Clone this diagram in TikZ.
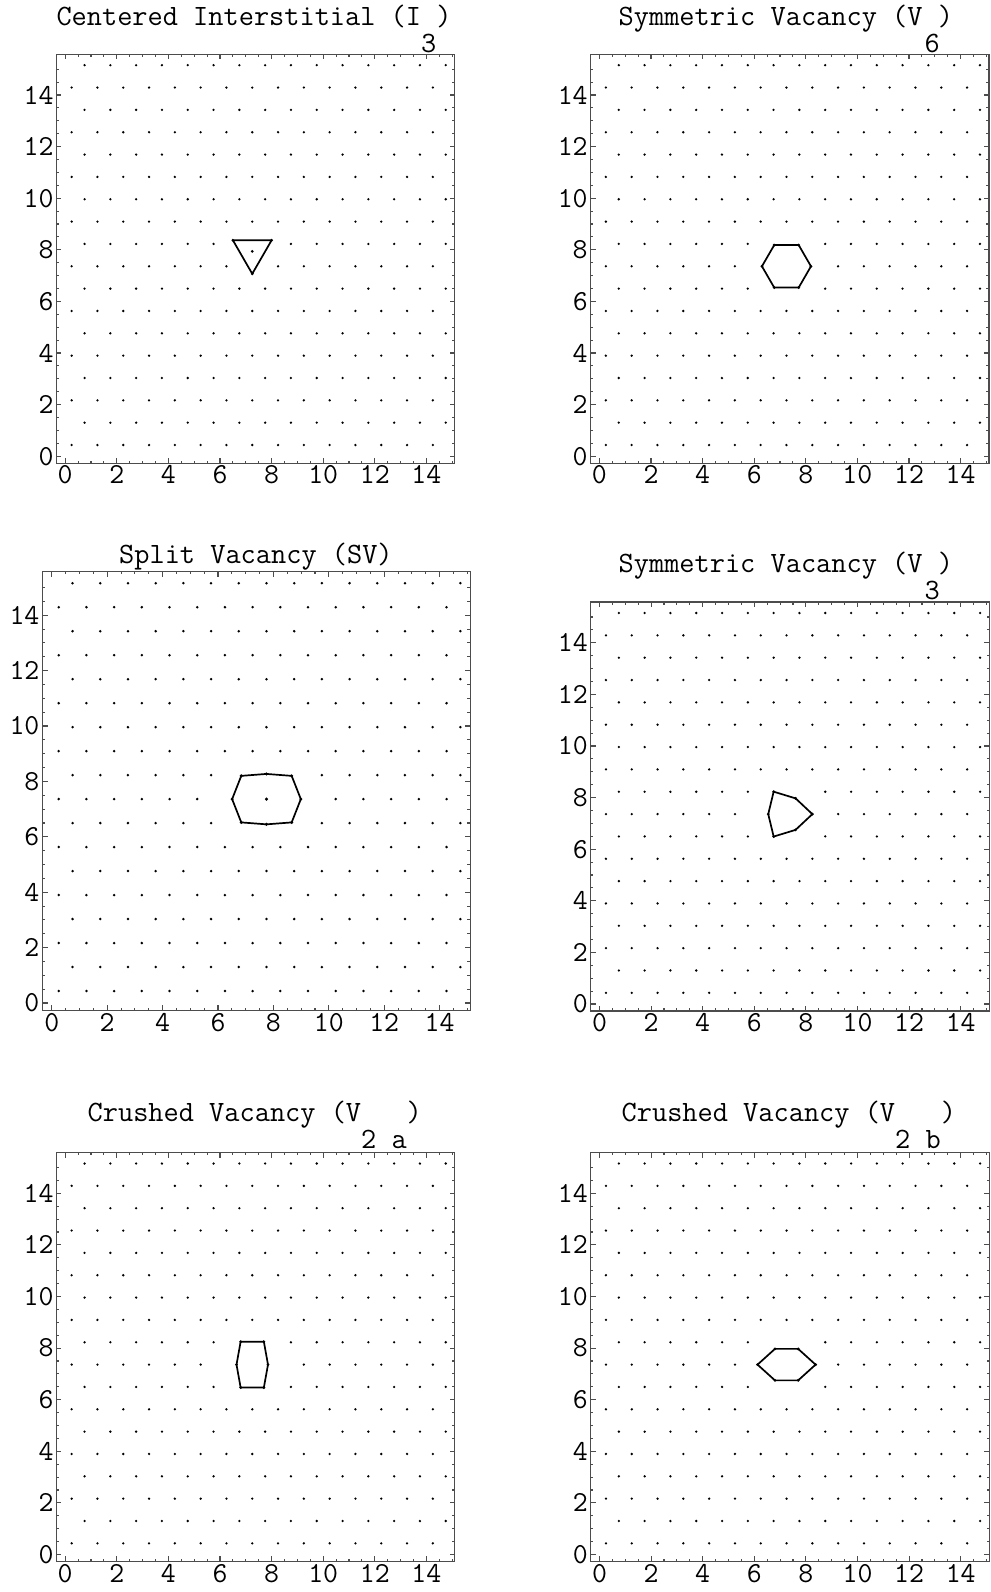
\documentclass[tikz,border=0pt]{standalone}
\usepackage{fontspec}
\usetikzlibrary{positioning}
\tikzset{
    panel frame/.style={draw=black!70, line width=1.1pt},
    lattice dot/.style={fill=black},
    defect line/.style={line width=1.7pt, line join=round},
    panel title/.style={font=\fontsize{29.5}{29.5}\selectfont\ttfamily,
        inner sep=0pt, anchor=base west},
    tick label/.style={font=\fontsize{29}{29}\selectfont\ttfamily, inner sep=2.5pt},
}
% lattice of 15 x 18 sites; sites closer than #4 to (#1,#3) or (#2,#3) are left out
\newcommand{\drawlattice}[4]{%
    \foreach \k in {0,...,17}{
        \foreach \i in {0,...,14}{
            \pgfmathsetmacro{\px}{\i+0.25+0.5*mod(\k,2)}
            \pgfmathsetmacro{\py}{0.433+0.866*\k}
            \pgfmathtruncatemacro{\keep}{min(veclen(\px-#1,\py-#3),veclen(\px-#2,\py-#3))>#4}
            \ifnum\keep=1 \fill[lattice dot] (\px,\py) circle[radius=0.05]; \fi
        }
    }
}
% frame, ticks and tick labels of panel #1
\newcommand{\drawframe}[1]{%
    \draw[panel frame] (-0.35,-0.27) rectangle (15.1,15.58);
    \foreach \t in {0,0.5,...,15}{
        \draw[panel frame] (\t,-0.27) -- ++(0,0.1);
        \draw[panel frame] (\t,15.58) -- ++(0,-0.1);
        \draw[panel frame] (-0.35,\t) -- ++(0.1,0);
        \draw[panel frame] (15.1,\t) -- ++(-0.1,0);
    }
    \foreach \t in {0,2,...,14}{
        \draw[panel frame] (\t,-0.27) -- ++(0,0.2);
        \draw[panel frame] (\t,15.58) -- ++(0,-0.2);
        \draw[panel frame] (-0.35,\t) -- ++(0.2,0);
        \draw[panel frame] (15.1,\t) -- ++(-0.2,0);
        \node[tick label, anchor=north] (#1x\t) at (\t,-0.27) {\t};
        \node[tick label, anchor=east] (#1y\t) at (-0.35,\t) {\t};
    }
}
\newcommand{\vertexdots}[1]{%
    \foreach \v in {#1} \fill[lattice dot] \v circle[radius=0.06];
}
\begin{document}
\begin{tikzpicture}[x=1pt, y=-1pt]
    \fill[white] (0,0) rectangle (990,1592);
    \useasboundingbox (0,0) rectangle (990,1592);

    % centred interstitial
    \node[panel title] (title1) at (56.3,25.7) {Centered Interstitial (I\ )};
    \node[panel title] (sub1) at (56.3,52.7) {\hphantom{Centered Interstitial (I}3};
    \begin{scope}[shift={(65.2,456.2)}, x=25.8pt, y=25.8pt]
        \drawframe{a}
        \drawlattice{7.25}{7.25}{7.94}{0.6}
        \draw[defect line] (6.5,8.37) -- (8.0,8.37) -- (7.25,7.07) -- cycle;
        \vertexdots{(6.5,8.37),(8.0,8.37),(7.25,7.07),(7.25,7.94)}
    \end{scope}

    % symmetric vacancy V6
    \node[panel title] (title2) at (618.5,25.7) {Symmetric Vacancy (V\ )};
    \node[panel title] (sub2) at (620.5,52.7) {\hphantom{Symmetric Vacancy (V}6};
    \begin{scope}[shift={(599.4,456.2)}, x=25.8pt, y=25.8pt]
        \drawframe{b}
        \drawlattice{7.25}{7.25}{7.36}{1.05}
        \draw[defect line] (7.725,8.183) -- (8.2,7.36) -- (7.725,6.537)
            -- (6.775,6.537) -- (6.3,7.36) -- (6.775,8.183) -- cycle;
        \vertexdots{(7.725,8.183),(8.2,7.36),(7.725,6.537),(6.775,6.537),(6.3,7.36),(6.775,8.183)}
    \end{scope}

    % split vacancy
    \node[panel title] (title3) at (119,563.3) {Split Vacancy (SV)};
    \begin{scope}[shift={(51.8,1003)}, x=27.7pt, y=27.7pt]
        \drawframe{c}
        \drawlattice{7.25}{8.25}{7.36}{1.05}
        \draw[defect line] (6.51,7.36) -- (6.84,6.52) -- (7.75,6.45) -- (8.66,6.52)
            -- (8.99,7.36) -- (8.66,8.20) -- (7.75,8.27) -- (6.84,8.20) -- cycle;
        \vertexdots{(6.51,7.36),(6.84,6.52),(7.75,6.45),(8.66,6.52),(8.99,7.36),(8.66,8.20),(7.75,8.27),(6.84,8.20),(7.75,7.36)}
    \end{scope}

    % symmetric vacancy V3
    \node[panel title] (title4) at (618.5,572.5) {Symmetric Vacancy (V\ )};
    \node[panel title] (sub4) at (620.5,599.5) {\hphantom{Symmetric Vacancy (V}3};
    \begin{scope}[shift={(599.5,1004)}, x=25.8pt, y=25.8pt]
        \drawframe{d}
        \drawlattice{7.25}{7.25}{7.36}{1.05}
        \draw[defect line] (6.75,8.23) -- (7.60,7.97) -- (8.25,7.36) -- (7.60,6.75)
            -- (6.75,6.49) -- (6.54,7.36) -- cycle;
        \vertexdots{(6.75,8.23),(7.60,7.97),(8.25,7.36),(7.60,6.75),(6.75,6.49),(6.54,7.36)}
    \end{scope}

    % crushed vacancy V2a
    \node[panel title] (title5) at (87.5,1121.7) {Crushed Vacancy (V\ \ \ )};
    \node[panel title] (sub5) at (87.5,1148.3) {\hphantom{Crushed Vacancy (V}2 a};
    \begin{scope}[shift={(65.2,1554.5)}, x=25.8pt, y=25.8pt]
        \drawframe{e}
        \drawlattice{7.25}{7.25}{7.36}{1.05}
        \draw[defect line] (6.80,8.25) -- (7.70,8.25) -- (7.86,7.36) -- (7.70,6.47)
            -- (6.80,6.47) -- (6.64,7.36) -- cycle;
        \vertexdots{(6.80,8.25),(7.70,8.25),(7.86,7.36),(7.70,6.47),(6.80,6.47),(6.64,7.36)}
    \end{scope}

    % crushed vacancy V2b
    \node[panel title] (title6) at (621.5,1121.7) {Crushed Vacancy (V\ \ \ )};
    \node[panel title] (sub6) at (621.5,1148.3) {\hphantom{Crushed Vacancy (V}2 b};
    \begin{scope}[shift={(599.5,1554.5)}, x=25.8pt, y=25.8pt]
        \drawframe{f}
        \drawlattice{7.25}{7.25}{7.36}{1.05}
        \draw[defect line] (6.80,7.97) -- (7.70,7.97) -- (8.375,7.36) -- (7.70,6.75)
            -- (6.80,6.75) -- (6.125,7.36) -- cycle;
        \vertexdots{(6.80,7.97),(7.70,7.97),(8.375,7.36),(7.70,6.75),(6.80,6.75),(6.125,7.36)}
    \end{scope}
\end{tikzpicture}
\end{document}
